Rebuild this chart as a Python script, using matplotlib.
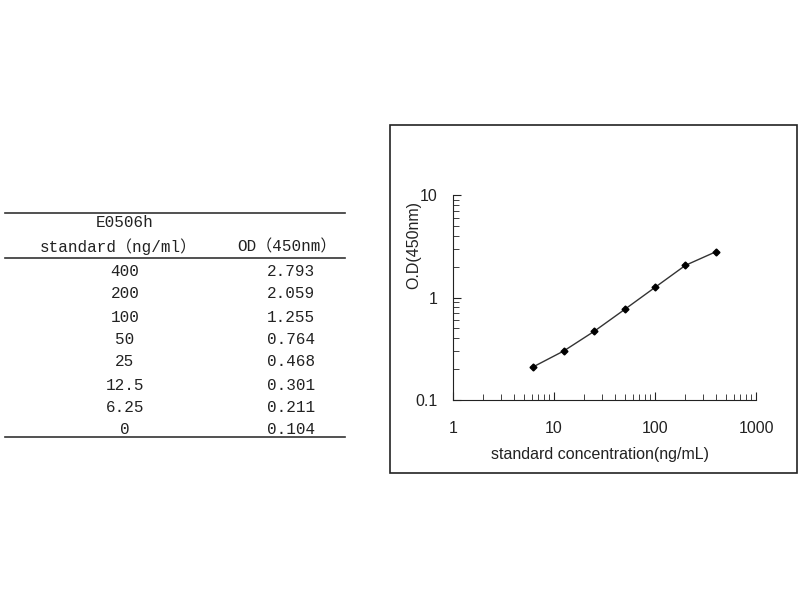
import matplotlib.pyplot as plt
from matplotlib.patches import Rectangle
from matplotlib.lines import Line2D

# standard curve data
std_labels = ['400', '200', '100', '50', '25', '12.5', '6.25', '0']
od_labels = ['2.793', '2.059', '1.255', '0.764', '0.468', '0.301', '0.211', '0.104']
conc = [400, 200, 100, 50, 25, 12.5, 6.25]
od = [2.793, 2.059, 1.255, 0.764, 0.468, 0.301, 0.211]

W, H = 800, 600
fig = plt.figure(figsize=(8, 6), dpi=100)
tfont = ['Liberation Mono', 'Noto Sans CJK SC', 'DejaVu Sans']

def fx(px):
    return px / W

def fy(py):
    return 1 - py / H

# table on the left
for py in [213, 258, 437]:
    fig.add_artist(Line2D([fx(5), fx(345)], [fy(py), fy(py)], color='#333333', lw=1.2))

fig.text(fx(125), fy(223), 'E0506h', ha='center', va='center', fontsize=11.5, family=tfont, color='#222222')
fig.text(fx(118), fy(247), 'standard（ng/ml）', ha='center', va='center', fontsize=11.5, family=tfont, color='#222222')
fig.text(fx(287), fy(247), 'OD（450nm）', ha='center', va='center', fontsize=11.5, family=tfont, color='#222222')

row_y = [271, 294, 317, 340, 362, 385, 407, 429]
for s, o, py in zip(std_labels, od_labels, row_y):
    fig.text(fx(125), fy(py), s, ha='center', va='center', fontsize=11.5, family=tfont, color='#222222')
    fig.text(fx(291), fy(py), o, ha='center', va='center', fontsize=11.5, family=tfont, color='#222222')

# frame around the chart
fig.add_artist(Rectangle((fx(390), fy(473)), fx(797) - fx(390), fy(125) - fy(473),
                         fill=False, ec='#222222', lw=1.2, transform=fig.transFigure))

ax = fig.add_axes([fx(453), fy(400), fx(756) - fx(453), fy(195) - fy(400)])
ax.plot(conc, od, color='#333333', lw=1, marker='D', markersize=3.5,
        markerfacecolor='black', markeredgecolor='black')
ax.set_xscale('log')
ax.set_yscale('log')
ax.set_xlim(1, 1000)
ax.set_ylim(0.1, 10)
ax.set_xticks([1, 10, 100, 1000])
ax.set_xticklabels(['1', '10', '100', '1000'])
ax.set_yticks([0.1, 1, 10])
ax.set_yticklabels(['0.1', '1', '10'])
ax.spines['top'].set_visible(False)
ax.spines['right'].set_visible(False)
for sp in ax.spines.values():
    sp.set_color('#222222')
ax.tick_params(which='both', direction='in', colors='#222222', labelsize=11.5)
ax.tick_params(axis='x', pad=15)
ax.tick_params(axis='y', pad=11)
ax.tick_params(which='major', length=6)
ax.tick_params(which='minor', length=4)
for lab in ax.get_xticklabels() + ax.get_yticklabels():
    lab.set_family('Liberation Sans')

fig.text(fx(414), fy(245), 'O.D(450nm)', rotation=90, ha='center', va='center',
         fontsize=11.5, family='Liberation Sans', color='#222222')
fig.text(fx(600), fy(455), 'standard concentration(ng/mL)', ha='center', va='center',
         fontsize=11.5, family='Liberation Sans', color='#222222')

fig.savefig('out.png', dpi=100, facecolor='white')
